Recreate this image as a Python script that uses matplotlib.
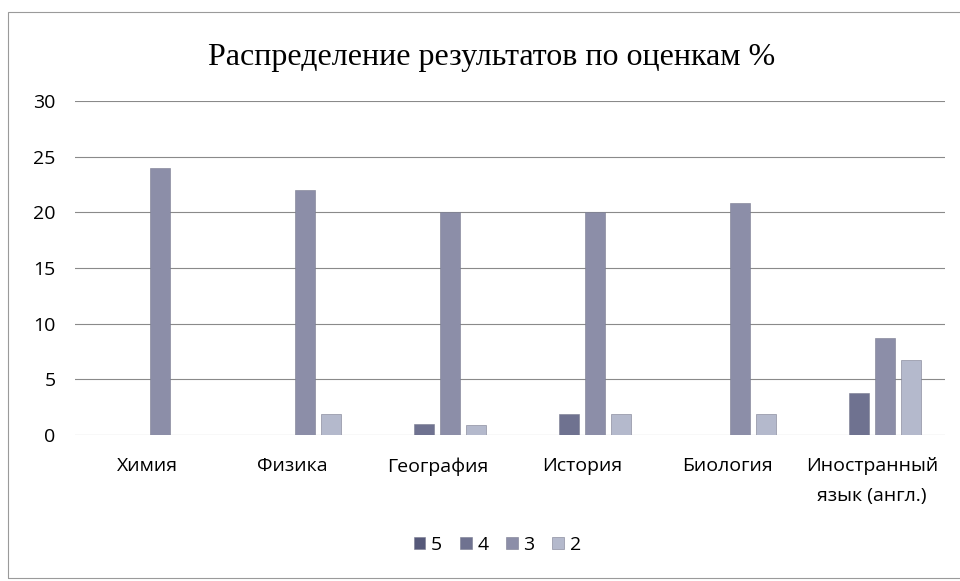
import matplotlib
matplotlib.use("Agg")
import matplotlib.pyplot as plt
import numpy as np
from matplotlib.patches import Rectangle

categories = ["Химия", "Физика", "География", "История", "Биология", "Иностранный\nязык (англ.)"]
series_names = ["5", "4", "3", "2"]
vals_5 = [0, 0, 0, 0, 0, 0]
vals_4 = [0, 0, 1.0, 1.9, 0, 3.8]
vals_3 = [24, 22, 20, 20, 20.8, 8.7]
vals_2 = [0, 1.9, 0.9, 1.9, 1.9, 6.7]
yticks = [0, 5, 10, 15, 20, 25, 30]
title = "Распределение результатов по оценкам %"

colors = ["#56597a", "#6f7290", "#8c8ea8", "#b4b9cc"]

fig = plt.figure(figsize=(9.6, 5.81), dpi=100)
ax = fig.add_axes([0.078, 0.2513, 0.906, 0.5749])

x = np.arange(len(categories))
step = 0.18
width = 0.138
for i, (name, vals) in enumerate(zip(series_names, [vals_5, vals_4, vals_3, vals_2])):
    ax.bar(x + (i - 1.5) * step, vals, width=width, color=colors[i], label=name,
           edgecolor="#7a7c90", linewidth=0.4, zorder=3)

ax.set_xlim(-0.5, 5.5)
ax.set_ylim(0, 30)
ax.set_yticks(yticks)
ax.set_yticklabels([str(t) for t in yticks], fontsize=14, family="Open Sans")
ax.set_xticks(x)
ax.set_xticklabels(categories, fontsize=14, family="Open Sans", linespacing=1.85)
ax.tick_params(axis="y", length=0, pad=14)
ax.tick_params(axis="x", length=0, pad=16)
ax.yaxis.grid(True, color="#8a8a8a", linewidth=0.8, zorder=0)
ax.set_axisbelow(True)
for s in ax.spines.values():
    s.set_visible(False)

fig.text(0.512, 0.901, title, ha="center", va="center", fontsize=23, family="Liberation Serif")

leg = fig.legend(loc="center", bbox_to_anchor=(0.518, 0.062), ncol=4, frameon=False,
                 handlelength=0.6, handleheight=0.6, handletextpad=0.3,
                 columnspacing=0.9, prop={"family": "Open Sans", "size": 14})

fig.patches.append(Rectangle((8 / 960, 3 / 581), 1.2, 566 / 581, transform=fig.transFigure,
                             fill=False, edgecolor="#9a9a9a", linewidth=0.8))

fig.savefig("out.png", dpi=100)
